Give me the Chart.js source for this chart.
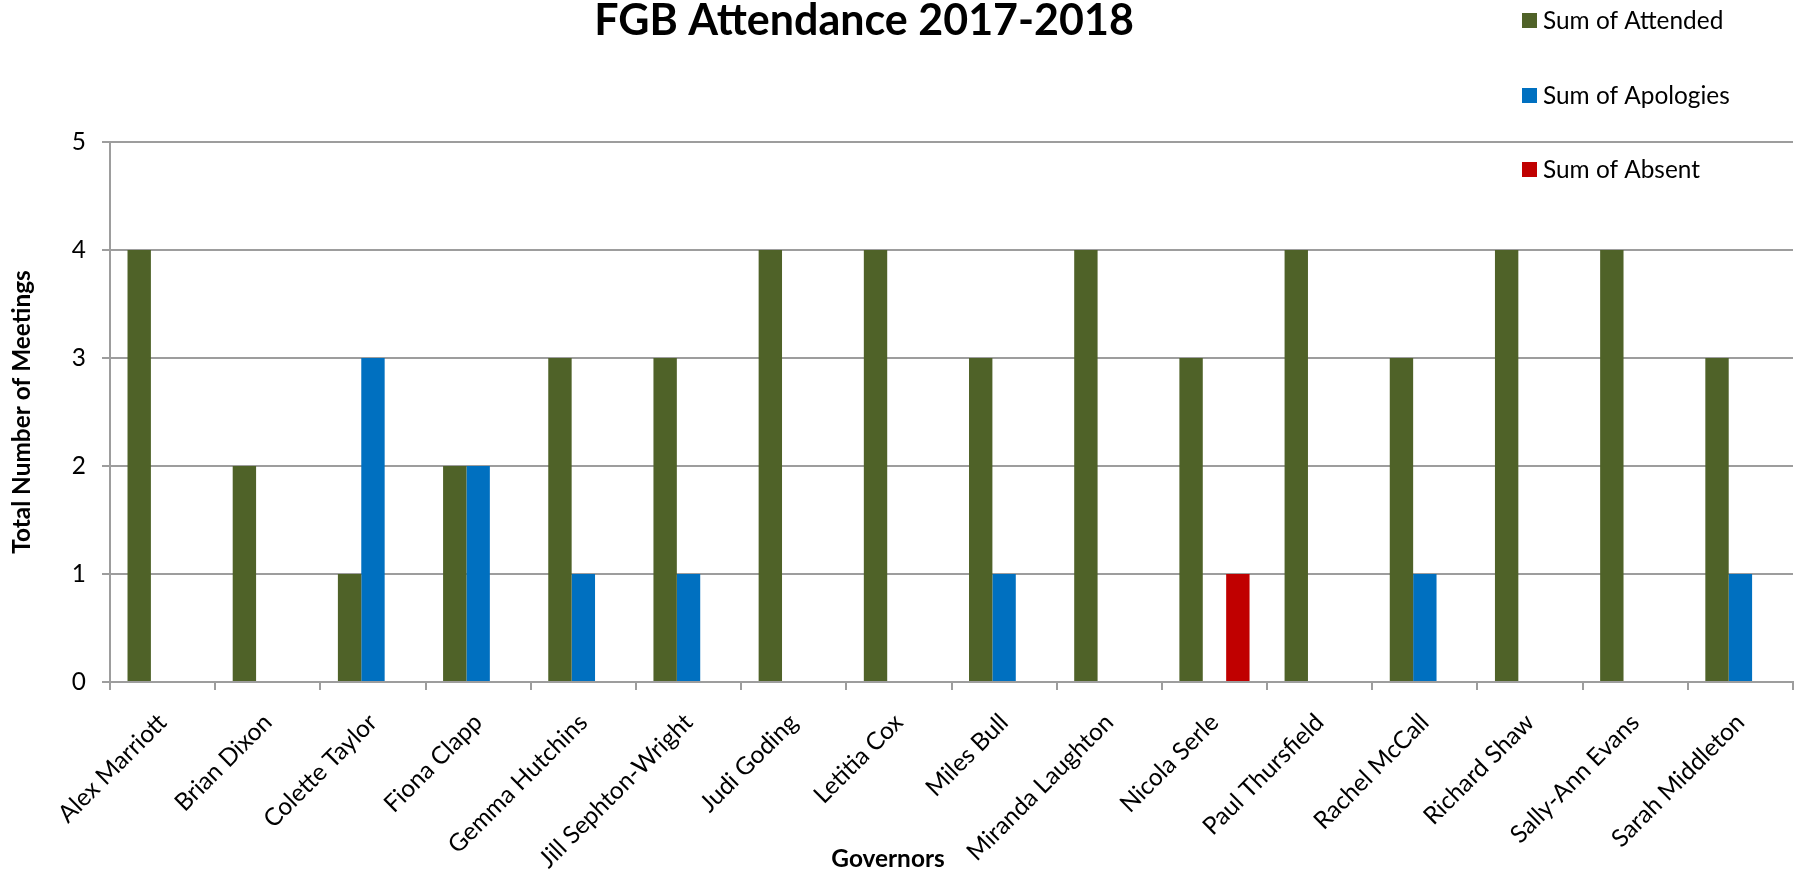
<!DOCTYPE html>
<html>
<head>
<meta charset="utf-8">
<title>FGB Attendance 2017-2018</title>
<script src="https://cdn.jsdelivr.net/npm/chart.js@4/dist/chart.umd.min.js"></script>
<style>
  html, body { margin: 0; padding: 0; background: #fff; }
  #wrap { width: 1798px; height: 877px; }
</style>
</head>
<body>
<div id="wrap"><canvas id="chart" width="1798" height="877"></canvas></div>
<script>
const governors = [
  'Alex Marriott', 'Brian Dixon', 'Colette Taylor', 'Fiona Clapp',
  'Gemma Hutchins', 'Jill Sephton-Wright', 'Judi Goding', 'Letitia Cox',
  'Miles Bull', 'Miranda Laughton', 'Nicola Serle', 'Paul Thursfield',
  'Rachel McCall', 'Richard Shaw', 'Sally-Ann Evans', 'Sarah Middleton'
];
const attended  = [4, 2, 1, 2, 3, 3, 4, 4, 3, 4, 3, 4, 3, 4, 4, 3];
const apologies = [0, 0, 3, 2, 1, 1, 0, 0, 1, 0, 0, 0, 1, 0, 0, 1];
const absent    = [0, 0, 0, 0, 0, 0, 0, 0, 0, 0, 1, 0, 0, 0, 0, 0];
const yTicks = [0, 1, 2, 3, 4, 5];

const chartTitle = 'FGB Attendance 2017-2018';
const xTitle = 'Governors';
const yTitle = 'Total Number of Meetings';

const FONT = 'Lato, "Open Sans", sans-serif';
const SIZE = 24.4;
const GRID = '#9d9d9d';

// title, x axis title and the legend are placed by hand like in the original
const overlayText = {
  id: 'overlayText',
  afterDraw(chart) {
    const ctx = chart.ctx;
    ctx.save();
    ctx.fillStyle = '#000';
    ctx.textBaseline = 'alphabetic';
    ctx.textAlign = 'center';
    ctx.font = 'bold 43px ' + FONT;
    ctx.fillText(chartTitle, 864, 35);
    ctx.font = 'bold ' + SIZE + 'px ' + FONT;
    ctx.fillText(xTitle, 888, 867);

    const rows = [20.5, 95.5, 169.5];
    ctx.textAlign = 'left';
    ctx.textBaseline = 'middle';
    ctx.font = SIZE + 'px ' + FONT;
    chart.data.datasets.forEach(function (ds, i) {
      ctx.fillStyle = ds.backgroundColor;
      ctx.fillRect(1522, rows[i] - 7.5, 15, 15);
      ctx.fillStyle = '#000';
      ctx.fillText(ds.label, 1543, rows[i] + 1);
    });
    ctx.restore();
  }
};

new Chart(document.getElementById('chart'), {
  type: 'bar',
  data: {
    labels: governors,
    datasets: [
      { label: 'Sum of Attended', data: attended, backgroundColor: '#4F6228' },
      { label: 'Sum of Apologies', data: apologies, backgroundColor: '#0070C0' },
      { label: 'Sum of Absent', data: absent, backgroundColor: '#C00000' }
    ]
  },
  options: {
    responsive: false,
    animation: false,
    devicePixelRatio: 1,
    categoryPercentage: 0.667,
    barPercentage: 1,
    layout: { padding: { top: 142, right: 5, bottom: 0, left: 0 } },
    plugins: {
      legend: { display: false },
      title: { display: false },
      tooltip: { enabled: false }
    },
    scales: {
      x: {
        afterFit: function (scale) { scale.height = 195; },
        grid: {
          display: true,
          offset: true,
          drawOnChartArea: false,
          drawTicks: true,
          tickLength: 8,
          color: GRID,
          lineWidth: 2
        },
        border: { display: true, color: GRID, width: 2 },
        ticks: {
          autoSkip: false,
          minRotation: 45,
          maxRotation: 45,
          padding: 18,
          color: '#000',
          font: { family: FONT, size: SIZE }
        }
      },
      y: {
        min: 0,
        max: 5,
        afterFit: function (scale) { scale.width = 110; },
        afterBuildTicks: function (scale) {
          scale.ticks = yTicks.map(function (v) { return { value: v }; });
        },
        grid: {
          color: GRID,
          lineWidth: 2,
          drawTicks: true,
          tickLength: 8
        },
        border: { display: true, color: GRID, width: 2 },
        ticks: {
          padding: 16,
          color: '#000',
          font: { family: FONT, size: SIZE }
        },
        title: {
          display: true,
          text: yTitle,
          color: '#000',
          padding: { top: 8, bottom: 0 },
          font: { family: FONT, size: SIZE, weight: 'bold' }
        }
      }
    }
  },
  plugins: [overlayText]
});
</script>
</body>
</html>
